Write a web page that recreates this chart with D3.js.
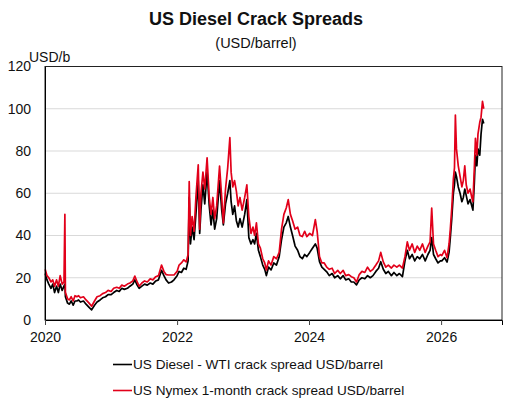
<!DOCTYPE html>
<html><head><meta charset="utf-8">
<script src="https://cdn.jsdelivr.net/npm/d3@7/dist/d3.min.js"></script>
<style>body{margin:0;background:#fff}svg{display:block}text{font-family:"Liberation Sans",Arial,sans-serif}</style>
</head><body><svg id="c" width="505" height="400"></svg>
<script>
const title = "US Diesel Crack Spreads";
const subtitle = "(USD/barrel)";
const yUnit = "USD/b";
const seriesNames = ["US Diesel - WTI crack spread USD/barrel", "US Nymex 1-month crack spread USD/barrel"];
const yTicks = [0, 20, 40, 60, 80, 100, 120];
const xTickYears = [2020, 2022, 2024, 2026];

const dates = [
 // 2020
 "2020-01-02","2020-01-12","2020-01-22","2020-02-03","2020-02-13","2020-02-23","2020-03-05","2020-03-15","2020-03-25","2020-04-05","2020-04-15","2020-04-20","2020-04-23","2020-05-05","2020-05-15","2020-05-25","2020-06-05","2020-06-15","2020-06-25","2020-07-05","2020-07-15","2020-08-01","2020-08-15","2020-09-01","2020-09-15","2020-10-01","2020-10-15","2020-11-01","2020-11-15","2020-12-01","2020-12-15",
 // 2021
 "2021-01-01","2021-01-15","2021-02-01","2021-02-15","2021-03-01","2021-03-15","2021-04-01","2021-04-15","2021-05-01","2021-05-12","2021-05-25","2021-06-05","2021-06-20","2021-07-05","2021-07-20","2021-08-05","2021-08-20","2021-09-05","2021-09-20","2021-10-07","2021-10-20","2021-11-01","2021-11-15","2021-12-01","2021-12-15",
 // 2022
 "2022-01-01","2022-01-12","2022-01-25","2022-02-07","2022-02-20","2022-03-03","2022-03-09","2022-03-16","2022-03-25","2022-04-05","2022-04-15","2022-04-28","2022-05-06","2022-05-13","2022-05-24","2022-06-03","2022-06-16","2022-06-28","2022-07-08","2022-07-18","2022-07-28","2022-08-08","2022-08-24","2022-09-05","2022-09-14","2022-09-26","2022-10-08","2022-10-20","2022-10-27","2022-11-05","2022-11-15","2022-11-25","2022-12-05","2022-12-15","2022-12-27",
 // 2023
 "2023-01-10","2023-01-22","2023-02-02","2023-02-14","2023-02-25","2023-03-06","2023-03-16","2023-03-27","2023-04-07","2023-04-20","2023-05-01","2023-05-10","2023-05-22","2023-06-05","2023-06-20","2023-07-05","2023-07-20","2023-08-02","2023-08-15","2023-08-28","2023-09-08","2023-09-20","2023-10-02","2023-10-16","2023-10-30","2023-11-12","2023-11-25","2023-12-08","2023-12-20",
 // 2024
 "2024-01-05","2024-01-20","2024-02-05","2024-02-15","2024-02-28","2024-03-12","2024-03-25","2024-04-08","2024-04-22","2024-05-08","2024-05-22","2024-06-08","2024-06-22","2024-07-08","2024-07-22","2024-08-08","2024-08-22","2024-09-05","2024-09-20","2024-10-05","2024-10-20","2024-11-05","2024-11-20","2024-12-05","2024-12-20",
 // 2025
 "2025-01-05","2025-01-20","2025-02-01","2025-02-15","2025-03-01","2025-03-15","2025-04-01","2025-04-15","2025-05-01","2025-05-15","2025-06-01","2025-06-15","2025-06-28","2025-07-10","2025-07-25","2025-08-08","2025-08-22","2025-09-05","2025-09-20","2025-10-05","2025-10-20","2025-11-01","2025-11-10","2025-11-20","2025-12-02","2025-12-15","2025-12-28",
 // 2026
 "2026-01-05","2026-01-20","2026-02-03","2026-02-14","2026-02-21","2026-03-01","2026-03-10","2026-03-16","2026-03-21","2026-03-27","2026-04-06","2026-04-16","2026-04-26","2026-05-04","2026-05-12","2026-05-20","2026-05-30","2026-06-10","2026-06-20","2026-06-26","2026-07-04","2026-07-10","2026-07-18","2026-07-24","2026-08-03","2026-08-10","2026-08-18","2026-08-25"
];

const dieselWti = [
 22,19,17,15,17,13,16,13,17,14,16,17,11,8,7.5,9,7,9,9,9.5,8.5,9,7.5,6,4.8,7,8.5,9.5,10.5,11,12,
 12,13,14,13.5,15,14.5,15,16,17,19,16.5,15,16,17,16.5,17.5,17,18.5,19,23.5,21,19,17.5,18,19,
 21,23,22.5,24.5,24,28,58,36,44,38,50,66,41,52,64,55,70,54,45,52,43,48,66,52,45,55,60,66,56,50,54,47,44,48,44,
 50,57,39,36,38,36,41,33,30,26,24,21,25,23.7,27,26,30,38,44,46,49,44,40,35,33,30,29,31,30,
 32,34,36,34,27.6,25,24,22.8,21,22,20,21,19.5,21,19,19.5,18,18,16.6,19,20,19.5,21,20,21,
 23,24.5,27.6,24,22,23,21,22.5,21,22,20.5,28,33,29,31,28,30,29,31,28,31,33,39,31,29,27,28,
 28,29.5,27.4,32,39,48,60,64,70,68,63,60,56,58,62,59,55,57,54,52,65,78,73,81,78,88,95,93
];

const nymex = [
 24,21,20,18,19,16,19,16,21,17,18,50,13,10,9.5,11,9,11.5,11,11.5,10.5,11,9.5,8,6.5,9,11,11.5,12.5,13,14,
 13.5,15,15.5,15,16.5,16,17,17.5,18.5,20.8,18,16,17.5,18.5,18,19.5,19,20.5,21,26,23,21.5,21.3,21.3,21.3,
 23,26,27,28.5,27.5,31,65.5,40,49,42,58,73.5,43,60,70,62,76.8,58,50,58,48,54,72.9,58,46,62,72,86.3,70,63,66,61,54,58,52,
 58,64,49,41,44,40,46,36,34,29,27,23.7,28,26,30,29,32,43,50,53,57,50,47,43,44,40,39.5,42,39.5,
 41,40,47.5,42,30,27,27,25,24,24.5,22,23.5,22,23.5,21,21.5,20.5,20,18,21.5,23,22.5,25,23,24,
 26,28,32,27.5,25,26,24.6,26,25,26,24.6,30,37,33,36,32,35,33,36,32,35,37,53,36,33,30,31,
 30.5,33,29.5,36,43,53,66.8,72,97,81,73,68,63,66,73,64,60,62,58,56,72,86,78,88,93.6,96,103.5,100
];

const seriesColors = ["#000000", "#e2001a"];

const svg = d3.select("#c");
const parse = d3.timeParse("%Y-%m-%d");
const n = Math.min(dates.length, dieselWti.length, nymex.length);
const pts = d3.range(n).map(i => ({d: parse(dates[i]), a: dieselWti[i], b: nymex[i]}));

const L = 45, R = 502, T = 66.5, B = 320;
const x = d3.scaleTime().domain([new Date(2020,0,1), new Date(2026,11,4)]).range([L, R]);
const y = d3.scaleLinear().domain([0, 120]).range([B, T]);

// gridlines
svg.append("g").selectAll("line").data(yTicks.filter(v => v > 0 && v < 120)).join("line")
  .attr("x1", L).attr("x2", R).attr("y1", d => y(d)).attr("y2", d => y(d))
  .attr("stroke", "#d9d9d9").attr("stroke-width", 1);

// lines
const line1 = d3.line().x(p => x(p.d)).y(p => y(p.a));
const line2 = d3.line().x(p => x(p.d)).y(p => y(p.b));
svg.append("path").datum(pts).attr("d", line1).attr("fill", "none")
  .attr("stroke", seriesColors[0]).attr("stroke-width", 1.7).attr("stroke-linejoin", "round");
svg.append("path").datum(pts).attr("d", line2).attr("fill", "none")
  .attr("stroke", seriesColors[1]).attr("stroke-width", 1.7).attr("stroke-linejoin", "round");

// frame
svg.append("rect").attr("x", L).attr("y", T).attr("width", R - L).attr("height", B - T)
  .attr("fill", "none").attr("stroke", "#222").attr("stroke-width", 1);

// axes
const yAxis = svg.append("g").attr("transform", `translate(${L},0)`)
  .call(d3.axisLeft(y).tickValues(yTicks).tickSize(0).tickPadding(14).tickFormat(d3.format("d")));
yAxis.select(".domain").attr("stroke", "#000");
yAxis.selectAll("text").attr("font-size", 14).attr("fill", "#111");

const xAxis = svg.append("g").attr("transform", `translate(0,${B})`)
  .call(d3.axisBottom(x).tickValues(xTickYears.map(yy => new Date(yy,0,1))).tickSize(5).tickPadding(7).tickFormat(d3.timeFormat("%Y")));
xAxis.select(".domain").attr("stroke", "#000");
xAxis.selectAll(".tick line").attr("stroke", "#444");
xAxis.selectAll("text").attr("font-size", 14).attr("fill", "#111");

// titles
svg.append("text").attr("x", 256).attr("y", 25).attr("text-anchor", "middle")
  .attr("font-size", 18).attr("font-weight", "bold").attr("fill", "#111").text(title);
svg.append("text").attr("x", 256).attr("y", 48).attr("text-anchor", "middle")
  .attr("font-size", 14.5).attr("fill", "#111").text(subtitle);
svg.append("text").attr("x", 29).attr("y", 62).attr("font-size", 14).attr("fill", "#111").text(yUnit);

// legend
const lg = svg.append("g").selectAll("g").data(seriesNames).join("g")
  .attr("transform", (d, i) => `translate(113,${364.5 + i * 26})`);
lg.append("line").attr("x1", 0).attr("x2", 19).attr("stroke", (d, i) => seriesColors[i]).attr("stroke-width", 1.6);
lg.append("text").attr("x", 20).attr("dy", "0.36em").attr("font-size", 13.6).attr("fill", "#111").text(d => d);
</script></body></html>
